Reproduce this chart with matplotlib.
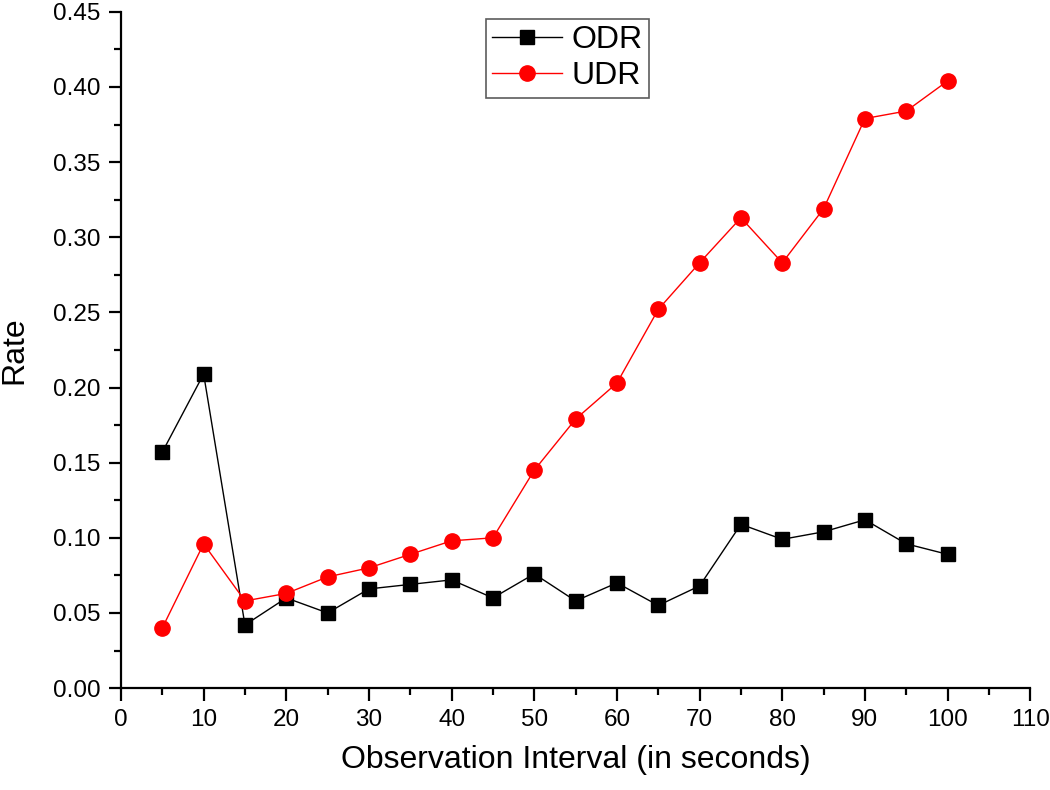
import matplotlib
matplotlib.use("Agg")
import matplotlib.pyplot as plt
from matplotlib.ticker import MultipleLocator

plt.rcParams['font.family'] = ['Liberation Sans', 'DejaVu Sans']

x = [5, 10, 15, 20, 25, 30, 35, 40, 45, 50, 55, 60, 65, 70, 75, 80, 85, 90, 95, 100]
odr = [0.157, 0.209, 0.042, 0.060, 0.050, 0.066, 0.069, 0.072, 0.060, 0.076,
       0.058, 0.070, 0.055, 0.068, 0.109, 0.099, 0.104, 0.112, 0.096, 0.089]
udr = [0.040, 0.096, 0.058, 0.063, 0.074, 0.080, 0.089, 0.098, 0.100, 0.145,
       0.179, 0.203, 0.252, 0.283, 0.313, 0.283, 0.319, 0.379, 0.384, 0.404]

fig = plt.figure(figsize=(10.5, 7.9), dpi=100)
ax = fig.add_axes([0.1152, 0.129, 0.866, 0.856])

ax.plot(x, odr, color='black', lw=1, marker='s', ms=10, label='ODR')
ax.plot(x, udr, color='red', lw=1, marker='o', ms=11, label='UDR')

ax.set_xlim(0, 110)
ax.set_ylim(0, 0.45)
ax.xaxis.set_major_locator(MultipleLocator(10))
ax.xaxis.set_minor_locator(MultipleLocator(5))
ax.yaxis.set_major_locator(MultipleLocator(0.05))
ax.yaxis.set_minor_locator(MultipleLocator(0.025))
ax.yaxis.set_major_formatter(plt.FuncFormatter(lambda v, p: f"{v:.2f}"))

for s in ['top', 'right']:
    ax.spines[s].set_visible(False)
for s in ['left', 'bottom']:
    ax.spines[s].set_linewidth(1.6)

ax.tick_params(which='major', direction='out', length=9, width=1.6, labelsize=17.5, pad=6)
ax.tick_params(which='minor', direction='out', length=5, width=1.6)

ax.set_xlabel('Observation Interval (in seconds)', fontsize=23, labelpad=10)
ax.set_ylabel('Rate', fontsize=23, labelpad=17)

leg = ax.legend(loc='upper left', bbox_to_anchor=(0.401, 0.99), fontsize=23,
                frameon=True, fancybox=False, edgecolor='#333333',
                handlelength=2.2, borderpad=0.2, labelspacing=0.2, handletextpad=0.3,
                borderaxespad=0)
leg.get_frame().set_linewidth(1.2)

fig.savefig('out.png', dpi=100)
